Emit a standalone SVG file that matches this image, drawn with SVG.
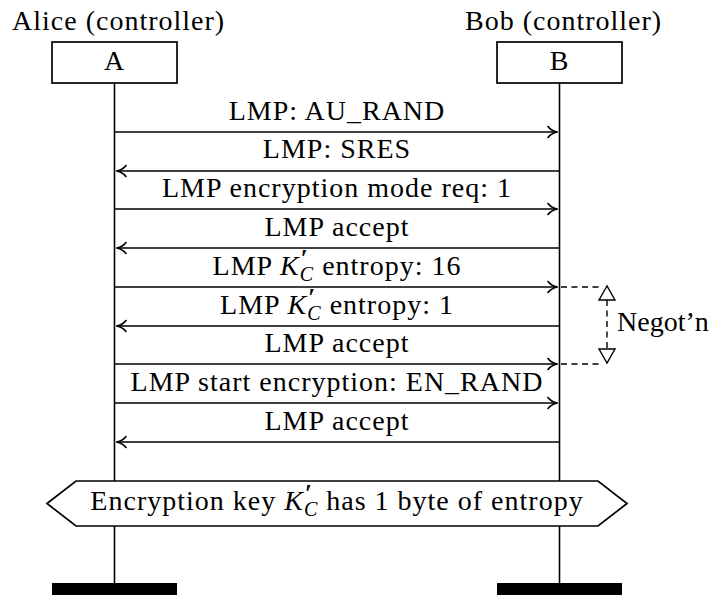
<svg xmlns="http://www.w3.org/2000/svg" width="714" height="595" viewBox="0 0 714 595">
  <style>
    .t { font-family: "Liberation Serif", "Times New Roman", serif; font-size: 28px; letter-spacing: 1px; fill: #000; }
    .mid { text-anchor: middle; }
    .m { font-style: italic; }
    .pr { font-size: 25px; font-weight: bold; }
    .sc { font-size: 20px; }
    .box { fill: #fff; stroke: #000; stroke-width: 1.7; }
    .life { stroke: #000; stroke-width: 1.6; fill: none; }
    .msg { stroke: #000; stroke-width: 1.7; fill: none; marker-end: url(#to); }
    .dash { stroke: #000; stroke-width: 1.4; fill: none; stroke-dasharray: 6 4.5; }
    .tri { fill: #fff; stroke: #000; stroke-width: 1.4; stroke-linejoin: miter; }
  </style>
  <defs>
    <marker id="to" viewBox="-11 -7 13 14" markerWidth="13" markerHeight="14" refX="0" refY="0" orient="auto" markerUnits="userSpaceOnUse">
      <path d="M-9.5,-5.5 C-7,-2 -3,-0.6 0,0 C-3,0.6 -7,2 -9.5,5.5" fill="none" stroke="#000" stroke-width="1.6" stroke-linecap="round"/>
    </marker>
  </defs>

  <!-- lifelines -->
  <g id="lifelines">
    <line class="life" x1="114.5" y1="83" x2="114.5" y2="585"/>
    <line class="life" x1="559.5" y1="83" x2="559.5" y2="585"/>
  </g>

  <!-- participant A -->
  <g id="alice">
    <text class="t" x="12" y="30">Alice (controller)</text>
    <rect class="box" x="52" y="42" width="125" height="41"/>
    <text class="t mid" x="114.5" y="70">A</text>
    <rect x="52" y="583" width="125" height="14" fill="#000"/>
  </g>

  <!-- participant B -->
  <g id="bob">
    <text class="t" x="465" y="30">Bob (controller)</text>
    <rect class="box" x="497" y="42" width="125" height="41"/>
    <text class="t mid" x="559.5" y="70">B</text>
    <rect x="497" y="583" width="125" height="14" fill="#000"/>
  </g>

  <!-- messages -->
  <g id="connectors">
    <line class="msg" x1="114.5" y1="132" x2="557.5" y2="132"/>
    <line class="msg" x1="559.5" y1="171" x2="116.5" y2="171"/>
    <line class="msg" x1="114.5" y1="209" x2="557.5" y2="209"/>
    <line class="msg" x1="559.5" y1="248" x2="116.5" y2="248"/>
    <line class="msg" x1="114.5" y1="287" x2="557.5" y2="287"/>
    <line class="msg" x1="559.5" y1="326" x2="116.5" y2="326"/>
    <line class="msg" x1="114.5" y1="364" x2="557.5" y2="364"/>
    <line class="msg" x1="114.5" y1="403" x2="557.5" y2="403"/>
    <line class="msg" x1="559.5" y1="442" x2="116.5" y2="442"/>
  </g>

  <!-- message labels -->
  <g id="labels">
    <text class="t mid" x="337" y="120">LMP: AU_RAND</text>
    <text class="t mid" x="337" y="158">LMP: SRES</text>
    <text class="t mid" x="337" y="197">LMP encryption mode req: 1</text>
    <text class="t mid" x="337" y="236">LMP accept</text>
    <text class="t mid" x="337" y="275">LMP <tspan class="m">K</tspan><tspan class="pr" dx="1" dy="-8">′</tspan><tspan class="sc m" dx="-9" dy="14">C</tspan><tspan dy="-6"> entropy: 16</tspan></text>
    <text class="t mid" x="337" y="314">LMP <tspan class="m">K</tspan><tspan class="pr" dx="1" dy="-8">′</tspan><tspan class="sc m" dx="-9" dy="14">C</tspan><tspan dy="-6"> entropy: 1</tspan></text>
    <text class="t mid" x="337" y="352">LMP accept</text>
    <text class="t mid" x="337" y="391">LMP start encryption: EN_RAND</text>
    <text class="t mid" x="337" y="430">LMP accept</text>
  </g>

  <!-- negotiation bracket -->
  <g id="negotiation">
    <path class="dash" d="M561,287 H601"/>
    <path class="dash" d="M561,364 H601"/>
    <path class="dash" d="M607,300 V349"/>
    <polygon class="tri" points="607,286 599,300 615,300"/>
    <polygon class="tri" points="599,349 615,349 607,363"/>
    <text class="t" x="617" y="331" style="letter-spacing:0">Negot’n</text>
  </g>

  <!-- state condition -->
  <g id="condition">
    <polygon class="box" points="47,503.5 76,481 598,481 627,503.5 598,526 76,526"/>
    <text class="t mid" x="337" y="510">Encryption key <tspan class="m">K</tspan><tspan class="pr" dx="1" dy="-8">′</tspan><tspan class="sc m" dx="-9" dy="14">C</tspan><tspan dy="-6"> has 1 byte of entropy</tspan></text>
  </g>
</svg>
